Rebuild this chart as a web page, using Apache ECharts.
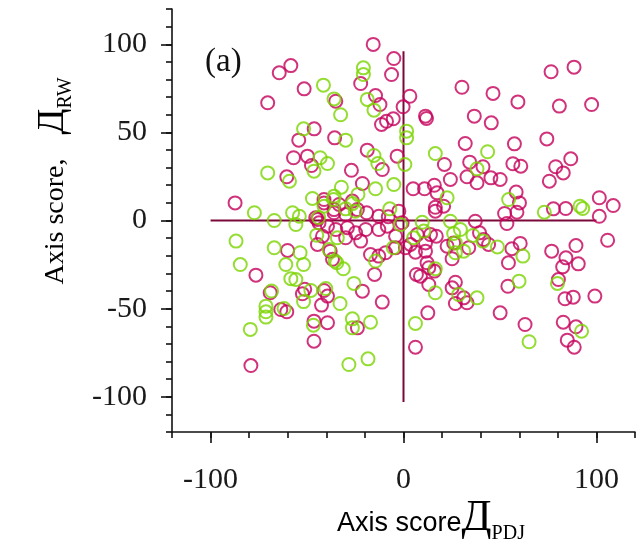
<!DOCTYPE html>
<html>
<head>
<meta charset="utf-8">
<script src="https://cdn.jsdelivr.net/npm/echarts@6/dist/echarts.min.js"></script>
<style>html,body{margin:0;padding:0;background:#fff;}#c{width:639px;height:549px;}</style>
</head>
<body>
<div id="c"></div>
<script>
// Tick values
var xMajorTicks = [-100, 0, 100];
var yMajorTicks = [-100, -50, 0, 50, 100];

// Cross lines (axes of the ordination)
var crossV = [[0, -103], [0, 96]];
var crossH = [[-100, 0], [100, 0]];

// Magenta group
var magenta = [
[-64.4,83.8],[-58.4,87.9],[-51.5,74.7],[-70.4,66.8],[-35.1,67.7],[-46.3,52],[-54.3,45.6],[-35.7,46.9],[-57,35.6],[-49.8,36.5],[-47.7,31.2],[-60.5,24.8],[-87.3,10],[-41.2,11.9],[-44.6,0.6],[-39.4,-3.2],[-36,6.2],
[-15.7,99.9],[-5,91.9],[-6.2,82.8],[-22.2,77.7],[30.3,75.6],[3.3,70.5],[-0.2,64.5],[-14.5,70.9],[-12.2,65.8],[11.4,59.2],[11.9,57.9],[36.7,59.2],[-5.3,57.7],[-8.8,56.3],[-11.4,54.5],[32,43.7],[-18.8,39.9],[-3.3,36.5],[21.2,31.8],[34.3,33.1],[-27,28.5],[-11,28.9],[24.3,23.3],[32.9,24.8],[38.1,21.4],[-21.3,21],[5,18],[10.9,18],[16,20],[17.4,15.7],[16.5,7.5],[20.8,8.1],[-19.1,4.4],[-12.8,2.4],[37.2,-0.4],[16.5,5.3],
[-41.2,10],[-33.4,9.1],[-26.5,11],[-23.9,6.2],[-36,4.4],[-30,3.4],[-7.9,2.1],[-2.4,5.3],[-45.5,1.5],[-43.8,-1.3],[-35.1,-5.1],[-29.1,-4.1],[-24.8,-7],[-19.6,-5.1],[-12.8,-5.1],[-8.4,-3.2],[-42,-8.9],[-30,-9.8],[-22.2,-11.7],[-44.6,-13.6],[-17.1,-19.3],[-4.1,-15.5],[1,-15.5],[-12.8,-20.2],[-9.3,-18.3],[-38,-17.4],[-36.8,-22],
[-60.1,-17],[-76.5,-31],[-69.1,-41],[-51.2,-39],[-52.4,-41.6],[-41.2,-39.7],[-39.4,-42.9],[-42.5,-48],[-63.6,-50.5],[-60.5,-51.8],[-46.4,-57.1],[-39.4,-58],[-46.4,-68.5],[-79.1,-82.3],
[-15,-30.6],[-21.3,-40.1],[-11,-46.3],[-23.9,-60.9],[3.6,-13.6],[7.1,-8],[14,-8],[17,-8.9],[11.4,-12.7],[6.2,-18],[22.6,-14.6],[25.2,-21.7],[33.8,-15.5],[12.2,-24],[13.1,-26.8],[16,-28.7],[6.7,-30.6],[8.8,-31.6],[13.1,-36.3],[26.9,-35],[25.2,-38.2],[26.9,-47.1],[32.9,-46.7],[31.2,-43.9],[12.6,-52.4],[6.2,-71.9],[-0.7,-1.3],[11.4,-17.4],[26,-12.7],[41.5,-10.8],[-4.1,-8.9],
[76.5,84.4],[88.4,87],[46.4,72.1],[59.3,67.3],[80.8,64.9],[97.5,65.8],[45.5,55.4],[74.3,46.3],[57.5,43.5],[41.2,30.5],[56.7,32.2],[60.8,30.8],[86.7,35],[78.9,30.5],[82.8,27],[75.6,22.3],[45.3,24.2],[50.1,23.3],[58.4,16.1],[60.1,10],[58.8,4.7],[52.4,4],[53.6,-1.7],[77.7,6.6],[84.1,6.8],[101.5,12.9],[108.7,8.5],[101.5,2.4],
[44.1,-13.6],[39.4,-7],[56.2,-16],[60.5,-13],[54.4,-24],[76.8,-17.4],[89.4,-14.2],[84.2,-21.2],[90.6,-24.6],[82.5,-26.3],[105.8,-11.2],[80.3,-33.5],[54.1,-37.3],[83.7,-44.4],[88,-43.5],[99.2,-42.9],[50.1,-52.4],[63,-59],[82.8,-57.7],[89.4,-60.3],[84.9,-67.9],[88.5,-71.9]
];

// Green group
var green = [
[-41.5,76.8],[-36,69],[-32.6,60],[-51.8,52],[-43.2,35.6],[-39.4,32.3],[-46.4,28],[-70.4,27],[-59.1,22.3],[-77.3,4.4],[-67,0],[-57.5,4.4],[-54,2.4],[-55.8,-2.3],[-47.2,12.5],[-36.3,11.9],[-44,1.7],[-41.2,8.1],
[-20.8,86.6],[-20.8,82.8],[-18.8,68.7],[-15.3,62.6],[1.6,50.7],[1.6,46.9],[-30,45.6],[16.5,38],[-15.3,36.9],[-13.3,32.3],[0.7,31.8],[38.1,29.3],[-5,20.4],[-14.5,18],[-32.2,18.9],[22.6,12.9],[-7.1,6.6],[-23.6,14.8],[-26.5,9.6],[-30,6.6],[9.7,-1],[24.3,-0.4],
[-36,13.8],[-25,5.3],[-35.5,-23],
[-1.6,-2.3],[10.5,-6],[5.3,-9.8],[29.5,-5.1],[26,-7.4],[36,-8.5],[26.9,-12.7],[26.9,-18.3],[31.2,-17.4],[16.5,-27.4],[16.5,-41],[28.6,-42],[38.1,-43.9],[6.2,-58.4],[-5.3,-15.5],[-14.5,-23],[-25.7,-35.7],[-32.9,-47.1],[-26.5,-55.8],[-26.5,-60.9],[-17.1,-57.7],[-28.3,-81.7],[-18.4,-78.5],[-45,-8.3],[-34.3,-9.8],[-38.6,-16.5],[-34.6,-24],[-31.2,-27.4],
[-86.8,-11.7],[-84.6,-25],[-67,-15.5],[-53.6,-18.3],[-61,-25],[-51.8,-25],[-58.4,-33],[-55.8,-33.5],[-68.4,-40],[-48,-39.7],[-40.3,-38.6],[-51.8,-46],[-71.3,-48.6],[-71.3,-51.8],[-71.3,-54.8],[-61.9,-49.9],[-46.7,-59.4],[-79.4,-61.8],
[43.6,39],[54.5,11.9],[73,4.7],[91.5,8.1],[92.9,6.8],
[41.2,-11.7],[48.7,-15],[61.9,-20.2],[79.8,-35.7],[59.9,-34.4],[65.1,-68.8],[92.3,-62.8]
];

var MAG = '#c4005a', GRN = '#7ad400', LINE = '#7a0838';
var serif = '"Liberation Serif", "DejaVu Serif", serif';
var sans = '"Liberation Sans", Arial, sans-serif';

var chart = echarts.init(document.getElementById('c'), null, {renderer: 'canvas'});

function baseAxis(extra) {
  var o = {
    type: 'value', min: -120, max: 120, splitLine: {show: false},
    axisLine: {show: true, onZero: false, lineStyle: {color: '#111', width: 1.6}},
    axisTick: {show: true, inside: false, length: 6, lineStyle: {color: '#111', width: 1.6}},
    axisLabel: {show: false}
  };
  for (var k in extra) o[k] = extra[k];
  return o;
}

var option = {
  animation: false,
  backgroundColor: '#fff',
  grid: {left: 172, top: 9, width: 463, height: 423, containLabel: false},
  xAxis: [
    baseAxis({position: 'bottom', interval: 20}),
    baseAxis({position: 'bottom', interval: 20,
      axisLine: {show: false, onZero: false},
      axisTick: {show: true, inside: false, length: 11, customValues: xMajorTicks, lineStyle: {color: '#111', width: 1.6}},
      axisLabel: {show: true, customValues: xMajorTicks, fontFamily: serif, fontSize: 30, color: '#1a1a1a', margin: 33}
    })
  ],
  yAxis: [
    baseAxis({position: 'left', interval: 10}),
    baseAxis({position: 'left', interval: 10,
      axisLine: {show: false, onZero: false},
      axisTick: {show: true, inside: false, length: 11, customValues: yMajorTicks, lineStyle: {color: '#111', width: 1.6}},
      axisLabel: {show: true, customValues: yMajorTicks, fontFamily: serif, fontSize: 30, color: '#1a1a1a', margin: 25}
    })
  ],
  graphic: [
    {type: 'text', left: 205, top: 46, style: {text: '(a)', font: '33px ' + serif, fill: '#111'}},
    {type: 'text', x: 431, y: 520, style: {
      text: '{a|Axis score}{d|Д}{s|PDJ}', x: 0, y: 0, align: 'center', verticalAlign: 'middle',
      rich: {
        a: {fontFamily: sans, fontSize: 27, color: '#111', verticalAlign: 'bottom', padding: [0, 0, 6, 0]},
        d: {fontFamily: serif, fontSize: 44, color: '#111', verticalAlign: 'bottom', padding: [0, 0, 3, 0]},
        s: {fontFamily: serif, fontSize: 20, color: '#111', verticalAlign: 'bottom', padding: [0, 0, 0, 0]}
      }}},
    {type: 'text', x: 55, y: 181, rotation: Math.PI / 2, style: {
      text: '{a|Axis score,}{d|Д}{s|RW}', x: 0, y: 0, align: 'center', verticalAlign: 'middle',
      rich: {
        a: {fontFamily: serif, fontSize: 28, color: '#111', verticalAlign: 'bottom', padding: [0, 0, 6, 0]},
        d: {fontFamily: serif, fontSize: 38, color: '#111', verticalAlign: 'bottom', padding: [0, 0, 4, 24]},
        s: {fontFamily: serif, fontSize: 20, color: '#111', verticalAlign: 'bottom', padding: [0, 0, 0, 0]}
      }}}
  ],
  series: [
    {type: 'line', data: crossV, symbol: 'none', lineStyle: {color: LINE, width: 2}, z: 1, silent: true},
    {type: 'line', data: crossH, symbol: 'none', lineStyle: {color: LINE, width: 2}, z: 1, silent: true},
    {type: 'scatter', data: magenta, symbol: 'circle', symbolSize: 13, z: 2,
      itemStyle: {color: 'rgba(0,0,0,0)', borderColor: MAG, borderWidth: 2}},
    {type: 'scatter', data: green, symbol: 'circle', symbolSize: 13, z: 3,
      itemStyle: {color: 'rgba(0,0,0,0)', borderColor: GRN, borderWidth: 2}}
  ]
};
chart.setOption(option);
</script>
</body>
</html>
